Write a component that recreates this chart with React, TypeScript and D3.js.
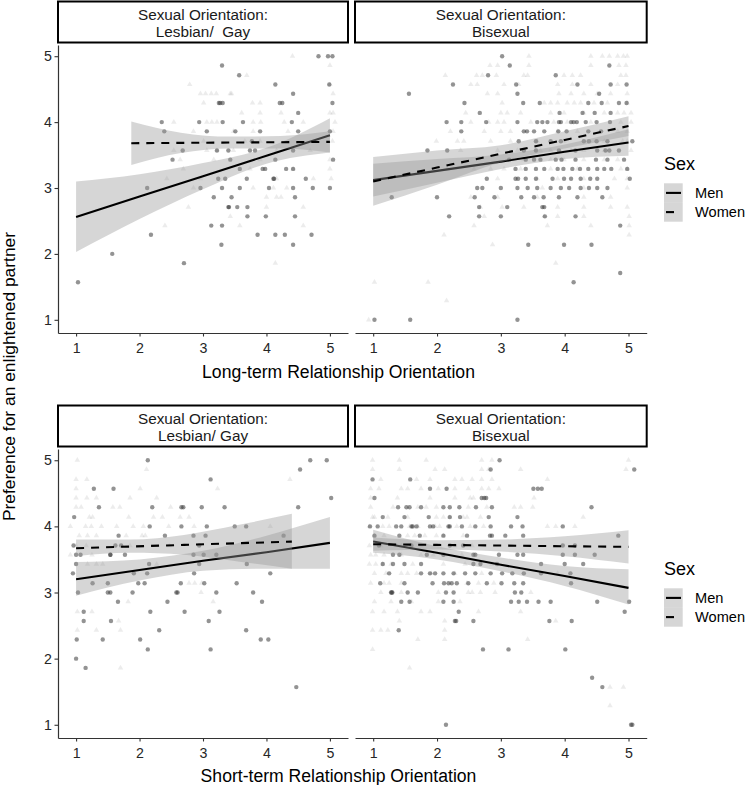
import React, { useEffect, useRef } from 'react';
import * as d3 from 'd3';

type Pt = [number, number];
interface Fit { x: number[]; fit: number[]; lo: number[]; hi: number[] }

// ---- data ----
const xTicks = [1, 2, 3, 4, 5];
const yTicks = [1, 2, 3, 4, 5];
const sexLabels = ['Men', 'Women'];
const stripLabels = [
  ['Sexual Orientation:', 'Lesbian/  Gay'],
  ['Sexual Orientation:', 'Bisexual'],
  ['Sexual Orientation:', 'Lesbian/ Gay'],
  ['Sexual Orientation:', 'Bisexual'],
];
const xTitles = ['Long-term Relationship Orientation', 'Short-term Relationship Orientation'];
const yTitle = 'Preference for an enlightened partner';

// Lesbian/Gay, long-term
const lgLongMen: Pt[] = [
  [1.03, 1.57], [1.57, 2.0], [2.18, 2.29], [2.12, 3.0], [2.35, 4.0], [2.39, 3.86], [2.52, 3.43], [2.7, 1.86],
  [2.68, 3.57], [2.94, 4.0], [2.96, 3.0], [3.06, 3.86], [3.17, 2.86], [3.13, 2.43], [3.25, 4.29], [3.27, 4.29],
  [3.31, 4.29], [3.3, 4.86], [3.31, 4.0], [3.3, 3.0], [3.3, 2.43], [3.29, 2.14], [3.22, 3.57], [3.24, 3.14],
  [3.35, 3.14], [3.4, 3.57], [3.4, 2.71], [3.41, 2.71], [3.43, 3.43], [3.45, 2.86], [3.51, 3.86], [3.54, 2.71],
  [3.57, 4.71], [3.58, 3.29], [3.58, 3.0], [3.63, 4.0], [3.69, 3.14], [3.7, 2.71], [3.7, 2.57], [3.74, 3.57],
  [3.77, 3.71], [3.82, 3.57], [3.86, 2.29], [3.9, 3.86], [3.94, 3.29], [3.98, 3.29], [3.99, 2.57], [4.04, 3.0],
  [4.14, 4.57], [4.11, 3.14], [4.12, 3.14], [4.14, 2.29], [4.14, 3.43], [4.21, 4.29], [4.25, 4.29], [4.29, 2.29],
  [4.31, 3.29], [4.4, 4.0], [4.42, 4.43], [4.42, 3.29], [4.42, 3.0], [4.42, 2.14], [4.45, 2.86], [4.45, 2.57],
  [4.42, 3.57], [4.5, 4.14], [4.62, 3.14], [4.71, 2.29], [4.73, 3.0], [4.82, 5.0], [4.97, 5.0], [5.04, 5.0],
  [4.99, 4.57], [5.04, 4.29], [5.0, 3.86], [5.05, 3.43], [5.0, 3.0], [4.5, 3.86],
];
const lgLongWomen: Pt[] = [
  [4.41, 5.0], [5.0, 4.86], [3.69, 4.71], [2.79, 4.57], [5.0, 4.57],
  [2.96, 4.43], [3.04, 4.43], [3.13, 4.43], [3.21, 4.43], [3.43, 4.43], [3.45, 4.43], [5.05, 4.43],
  [3.01, 4.29], [3.78, 4.29], [3.9, 4.29],
  [3.61, 4.14], [3.9, 4.14], [4.23, 4.14], [5.0, 4.14], [5.05, 4.14],
  [2.54, 4.0], [3.06, 4.0], [3.14, 4.0], [3.22, 4.0], [3.79, 4.0], [3.91, 4.0], [4.28, 4.0], [4.58, 4.0], [5.08, 4.0],
  [2.85, 3.86], [3.48, 3.86], [3.79, 3.86], [4.34, 3.86], [5.05, 3.86],
  [3.01, 3.71], [3.66, 3.71], [3.9, 3.71], [5.04, 3.71],
  [2.54, 3.57], [3.06, 3.57], [3.22, 3.57], [3.48, 3.57], [4.16, 3.57], [4.69, 3.57],
  [2.64, 3.43], [3.17, 3.43], [3.9, 3.43], [5.0, 3.43],
  [2.69, 3.29], [3.74, 3.29], [4.42, 3.29], [5.0, 3.29],
  [2.43, 3.14], [2.96, 3.14], [4.16, 3.14], [4.74, 3.14], [5.02, 3.14],
  [2.85, 3.0], [3.79, 3.0], [4.11, 3.0], [4.32, 3.0],
  [4.0, 2.86], [4.16, 2.86], [4.23, 2.86],
  [2.77, 2.71], [4.0, 2.71], [4.58, 2.71],
  [3.43, 2.57], [2.4, 2.43], [3.58, 2.43], [4.58, 2.43], [4.14, 1.86],
];

// Bisexual, long-term
const biLongMen: Pt[] = [
  [3.02, 5.0], [3.14, 4.86], [4.7, 4.86], [2.8, 4.71], [3.86, 4.71],
  [2.25, 4.57], [3.24, 4.57], [4.2, 4.57], [4.72, 4.57], [4.97, 4.57],
  [1.56, 4.43], [3.26, 4.43], [4.54, 4.43],
  [2.43, 4.29], [3.35, 4.29], [3.61, 4.29], [4.37, 4.29], [4.58, 4.29], [4.85, 4.29], [4.97, 4.29],
  [2.67, 4.14], [3.92, 4.14], [4.28, 4.14], [4.47, 4.14], [4.72, 4.14],
  [2.15, 4.0], [2.38, 4.0], [2.77, 4.0], [3.26, 4.0], [3.57, 4.0], [3.65, 4.0], [3.73, 4.0], [3.91, 4.0],
  [3.94, 4.0], [4.1, 4.0], [4.14, 4.0], [4.19, 4.0], [4.33, 4.0], [4.5, 4.0], [4.71, 4.0],
  [2.38, 3.86], [3.36, 3.86], [3.41, 3.86], [3.52, 3.86], [3.68, 3.86], [3.9, 3.86], [4.03, 3.86], [4.37, 3.86], [4.57, 3.86],
  [3.28, 3.71], [3.55, 3.71], [3.78, 3.71], [3.94, 3.71], [4.3, 3.71], [4.38, 3.71], [4.5, 3.71], [4.67, 3.71], [5.06, 3.71],
  [1.85, 3.57], [2.16, 3.57], [3.36, 3.57], [3.55, 3.57], [3.91, 3.57], [4.17, 3.57], [4.51, 3.57], [4.64, 3.57], [4.7, 3.57], [4.85, 3.57],
  [3.13, 3.43], [3.39, 3.43], [3.52, 3.43], [3.62, 3.43], [3.86, 3.43], [3.95, 3.43], [4.17, 3.43], [4.49, 3.43], [4.67, 3.43], [4.93, 3.43],
  [3.23, 3.29], [3.39, 3.29], [3.55, 3.29], [3.68, 3.29], [3.89, 3.29], [3.98, 3.29], [4.12, 3.29], [4.24, 3.29], [4.37, 3.29],
  [4.51, 3.29], [4.62, 3.29], [4.73, 3.29], [4.98, 3.29],
  [2.78, 3.14], [3.23, 3.14], [3.27, 3.14], [3.39, 3.14], [3.55, 3.14], [3.81, 3.14], [3.99, 3.14], [4.1, 3.14], [4.25, 3.14],
  [4.4, 3.14], [4.51, 3.14], [5.02, 3.14],
  [2.63, 3.0], [2.71, 3.0], [3.0, 3.0], [3.26, 3.0], [3.42, 3.0], [3.57, 3.0], [3.78, 3.0], [3.94, 3.0], [4.07, 3.0],
  [4.25, 3.0], [4.38, 3.0], [4.51, 3.0], [4.67, 3.0],
  [1.29, 2.86], [2.0, 2.86], [2.59, 2.86], [2.9, 2.86], [3.32, 2.86], [3.52, 2.86], [3.67, 2.86], [3.91, 2.86], [4.2, 2.86], [4.59, 2.86],
  [2.66, 2.71], [3.1, 2.71], [3.65, 2.71], [3.68, 2.71],
  [2.19, 2.57], [2.66, 2.57], [3.0, 2.57], [3.69, 2.57], [4.17, 2.57],
  [4.87, 2.43], [3.43, 2.14], [3.99, 2.14], [4.42, 2.14], [4.87, 1.71], [4.14, 1.57],
  [1.02, 1.0], [1.58, 1.0], [3.26, 1.0],
];
const biLongWomen: Pt[] = [
  [3.44, 5.0], [4.41, 5.0], [4.59, 5.0], [4.7, 5.0], [4.83, 5.0], [4.92, 5.0], [4.98, 5.0],
  [2.83, 4.86], [2.95, 4.86], [3.44, 4.86], [4.41, 4.86], [4.85, 4.86], [4.96, 4.86],
  [2.13, 4.71], [2.62, 4.71], [2.71, 4.71], [2.93, 4.71], [3.36, 4.71], [3.42, 4.71], [3.99, 4.71], [4.12, 4.71],
  [4.25, 4.71], [4.88, 4.71], [4.96, 4.71],
  [2.53, 4.57], [2.63, 4.57], [3.05, 4.57], [3.28, 4.57], [3.89, 4.57], [4.12, 4.57], [4.41, 4.57], [4.83, 4.57],
  [2.79, 4.43], [2.95, 4.43], [3.91, 4.43], [4.1, 4.43], [4.3, 4.43], [4.51, 4.43], [4.72, 4.43], [4.98, 4.43],
  [3.02, 4.29], [3.68, 4.29], [3.78, 4.29], [3.89, 4.29], [4.04, 4.29], [4.15, 4.29], [4.25, 4.29], [4.46, 4.29],
  [4.67, 4.29], [4.98, 4.29],
  [2.45, 4.14], [3.0, 4.14], [3.1, 4.14], [3.31, 4.14], [3.78, 4.14], [3.99, 4.14], [4.3, 4.14], [4.62, 4.14],
  [4.83, 4.14], [4.93, 4.14], [5.04, 4.14],
  [2.53, 4.0], [2.81, 4.0], [2.95, 4.0], [3.05, 4.0], [3.47, 4.0], [3.83, 4.0], [4.04, 4.0], [4.41, 4.0], [4.88, 4.0], [5.04, 4.0],
  [2.21, 3.86], [2.74, 3.86], [3.0, 3.86], [3.15, 3.86], [3.89, 3.86], [4.2, 3.86], [4.83, 3.86], [4.98, 3.86],
  [1.99, 3.71], [2.32, 3.71], [2.42, 3.71], [2.84, 3.71], [3.15, 3.71], [3.57, 3.71], [3.99, 3.71], [4.62, 3.71],
  [4.91, 3.71], [4.98, 3.71],
  [2.37, 3.57], [2.95, 3.57], [3.26, 3.57], [3.62, 3.57], [3.78, 3.57], [4.1, 3.57], [4.3, 3.57], [4.62, 3.57], [5.04, 3.57],
  [3.36, 3.43], [3.78, 3.43], [3.99, 3.43], [4.3, 3.43], [4.62, 3.43], [4.83, 3.43],
  [2.16, 3.29], [2.58, 3.29], [2.84, 3.29], [3.05, 3.29], [3.31, 3.29], [3.78, 3.29], [4.2, 3.29], [4.88, 3.29], [4.98, 3.29],
  [2.95, 3.14], [3.57, 3.14], [3.89, 3.14], [4.3, 3.14], [4.78, 3.14], [4.98, 3.14],
  [3.65, 3.0], [4.3, 3.0], [4.98, 3.0],
  [2.53, 2.86], [2.95, 2.86], [3.57, 2.86], [4.3, 2.86], [4.72, 2.86],
  [2.68, 2.71], [3.02, 2.71], [3.36, 2.71], [3.89, 2.71], [4.3, 2.71], [4.72, 2.71], [4.98, 2.71],
  [2.74, 2.57], [3.68, 2.57], [3.89, 2.57], [4.3, 2.57], [5.01, 2.57],
  [2.58, 2.43], [3.73, 2.43], [4.41, 2.43], [5.01, 2.43],
  [2.11, 2.29], [5.01, 2.29], [2.87, 2.14], [3.86, 1.86], [1.02, 1.57], [1.86, 1.57], [2.15, 1.29], [0.93, 1.0],
];

// Lesbian/Gay, short-term
const lgShortMen: Pt[] = [
  [2.13, 5.0], [4.69, 5.0], [4.95, 5.0], [4.53, 4.86], [3.12, 4.71], [1.28, 4.57], [1.59, 4.57], [5.02, 4.43],
  [1.36, 4.29], [2.2, 4.29], [2.66, 4.29], [2.69, 4.29], [2.98, 4.29], [3.34, 4.29], [4.5, 4.29], [0.97, 4.14],
  [2.16, 4.0], [2.66, 4.0], [3.06, 4.0], [3.5, 4.0], [3.68, 4.0],
  [1.67, 3.86], [2.4, 3.86], [2.85, 3.86], [3.04, 3.86], [4.27, 3.86],
  [0.96, 3.71], [1.62, 3.71], [1.71, 3.71], [2.94, 3.71],
  [1.0, 3.57], [1.07, 3.57], [1.54, 3.57], [1.54, 3.57], [1.77, 3.57], [2.85, 3.57], [3.01, 3.57], [3.21, 3.57],
  [1.0, 3.43], [2.15, 3.43], [2.94, 3.43], [3.69, 3.43],
  [0.95, 3.29], [1.91, 3.29], [2.12, 3.29], [2.86, 3.29], [4.06, 3.29],
  [1.26, 3.14], [1.5, 3.14], [1.98, 3.14], [2.08, 3.14], [2.65, 3.14], [3.02, 3.14], [3.53, 3.14],
  [1.03, 3.0], [1.5, 3.0], [1.54, 3.0], [1.89, 3.0], [2.58, 3.0], [2.6, 3.0], [3.21, 3.0], [3.79, 3.0],
  [1.66, 2.86], [2.44, 2.86], [3.93, 2.86],
  [1.12, 2.71], [2.17, 2.71], [2.71, 2.71], [3.26, 2.71],
  [1.12, 2.57], [1.55, 2.57], [3.09, 2.57], [2.31, 2.43], [3.68, 2.43],
  [1.01, 2.29], [1.42, 2.29], [2.01, 2.29], [3.91, 2.29], [4.03, 2.29],
  [2.13, 2.14], [3.12, 2.14], [1.0, 2.0], [1.15, 1.86], [4.47, 1.57],
];
const lgShortWomen: Pt[] = [
  [1.02, 5.0], [2.11, 4.86], [1.0, 4.71], [1.17, 4.71], [4.37, 4.71],
  [1.0, 4.57], [2.01, 4.57], [3.23, 4.57],
  [1.0, 4.43], [1.17, 4.43], [1.32, 4.43], [1.85, 4.43], [2.27, 4.43],
  [1.0, 4.29], [1.08, 4.29], [1.58, 4.29], [1.69, 4.29], [2.49, 4.29],
  [1.21, 4.14], [1.26, 4.14], [1.83, 4.14], [2.22, 4.14], [2.36, 4.14], [2.64, 4.14], [2.78, 4.14],
  [0.91, 4.0], [1.15, 4.0], [1.24, 4.0], [1.4, 4.0], [1.64, 4.0], [1.9, 4.0], [2.06, 4.0], [2.46, 4.0], [2.86, 4.0], [4.06, 4.0],
  [1.05, 3.86], [1.18, 3.86], [1.32, 3.86], [1.79, 3.86], [2.04, 3.86], [2.09, 3.86],
  [1.0, 3.71], [1.16, 3.71], [1.85, 3.71], [2.47, 3.71],
  [0.91, 3.57], [1.25, 3.57],
  [1.18, 3.43], [1.32, 3.43], [1.42, 3.43], [2.27, 3.43],
  [2.78, 3.14], [2.87, 3.14], [2.98, 3.14], [2.97, 3.0],
  [1.82, 2.86], [3.16, 2.86], [1.02, 2.71], [1.25, 2.71], [1.67, 2.57],
  [1.02, 2.43], [1.32, 2.43], [1.7, 2.43], [1.7, 1.86],
];

// Bisexual, short-term
const biShortMen: Pt[] = [
  [2.98, 5.0], [2.84, 4.86], [5.09, 4.86], [0.99, 4.71], [1.58, 4.71],
  [1.89, 4.57], [2.15, 4.57], [3.51, 4.57], [3.58, 4.57], [3.64, 4.57],
  [1.02, 4.43], [2.7, 4.43], [2.74, 4.43], [2.77, 4.43],
  [1.39, 4.29], [1.52, 4.29], [1.57, 4.29], [1.75, 4.29], [2.1, 4.29], [2.2, 4.29], [2.35, 4.29], [2.61, 4.29], [2.86, 4.29], [4.42, 4.29],
  [1.15, 4.14], [1.49, 4.14], [1.87, 4.14], [2.2, 4.14], [2.36, 4.14], [2.81, 4.14], [3.26, 4.14],
  [0.95, 4.0], [1.07, 4.0], [1.36, 4.0], [1.44, 4.0], [1.6, 4.0], [1.62, 4.0], [1.68, 4.0], [1.89, 4.0], [1.94, 4.0],
  [2.18, 4.0], [2.2, 4.0], [2.39, 4.0], [2.6, 4.0], [2.84, 4.0], [3.16, 4.0], [3.34, 4.0], [3.97, 4.0],
  [1.02, 3.86], [1.41, 3.86], [1.73, 3.86], [2.1, 3.86], [2.47, 3.86], [2.83, 3.86], [2.86, 3.86], [3.07, 3.86], [3.35, 3.86], [4.84, 3.86],
  [1.09, 3.71], [1.6, 3.71], [2.2, 3.71], [2.41, 3.71], [3.97, 3.71], [4.16, 3.71],
  [1.31, 3.57], [1.41, 3.57], [1.84, 3.57], [2.1, 3.57], [2.57, 3.57], [2.6, 3.57], [2.97, 3.57], [3.26, 3.57],
  [3.35, 3.57], [3.97, 3.57], [4.16, 3.57], [4.47, 3.57],
  [1.15, 3.43], [1.31, 3.43], [1.49, 3.43], [1.75, 3.43], [2.57, 3.43], [2.68, 3.43], [2.94, 3.43], [3.63, 3.43], [4.0, 3.43], [4.29, 3.43],
  [1.25, 3.29], [1.75, 3.29], [1.89, 3.29], [1.97, 3.29], [2.1, 3.29], [2.26, 3.29], [2.44, 3.29], [2.6, 3.29],
  [2.84, 3.29], [3.02, 3.29], [3.18, 3.29], [3.36, 3.29], [3.63, 3.29], [4.09, 3.29],
  [1.11, 3.14], [1.49, 3.14], [1.93, 3.14], [2.11, 3.14], [2.18, 3.14], [2.23, 3.14], [2.31, 3.14], [2.49, 3.14],
  [2.78, 3.14], [3.01, 3.14], [3.21, 3.14], [3.35, 3.14], [4.1, 3.14],
  [1.28, 3.0], [1.3, 3.0], [1.29, 3.0], [1.54, 3.0], [1.7, 3.0], [2.14, 3.0], [2.26, 3.0], [3.22, 3.0], [3.32, 3.0],
  [1.44, 2.86], [1.57, 2.86], [2.1, 2.86], [2.26, 2.86], [3.16, 2.86], [3.28, 2.86], [3.41, 2.86], [3.59, 2.86],
  [3.78, 2.86], [4.51, 2.86], [5.01, 2.86],
  [2.34, 2.71], [4.94, 2.71], [2.28, 2.57], [2.3, 2.57], [2.57, 2.57], [3.76, 2.57], [4.11, 2.57],
  [1.4, 2.43], [2.72, 2.14], [3.12, 2.14], [4.01, 2.14], [4.43, 1.71], [4.59, 1.57],
  [2.14, 1.0], [5.04, 1.0], [5.06, 1.0],
];
const biShortWomen: Pt[] = [
  [0.99, 5.0], [1.41, 5.0], [1.83, 5.0], [2.7, 5.0], [2.86, 5.0], [5.0, 5.0],
  [0.99, 4.86], [1.41, 4.86], [1.97, 4.86], [2.12, 4.86], [2.7, 4.86], [2.81, 4.86], [3.31, 4.86], [4.96, 4.86],
  [1.12, 4.71], [1.68, 4.71], [1.89, 4.71], [2.28, 4.71], [2.39, 4.71], [2.55, 4.71], [2.7, 4.71], [2.86, 4.71], [3.73, 4.71],
  [0.96, 4.57], [1.09, 4.57], [1.44, 4.57], [1.54, 4.57], [1.75, 4.57], [2.02, 4.57], [2.28, 4.57], [2.49, 4.57],
  [2.7, 4.57], [2.81, 4.57], [2.97, 4.57],
  [0.96, 4.43], [1.38, 4.43], [1.89, 4.43], [2.28, 4.43], [2.52, 4.43], [2.57, 4.43], [3.52, 4.43],
  [0.96, 4.29], [1.31, 4.29], [1.7, 4.29], [1.83, 4.29], [1.99, 4.29], [2.49, 4.29], [2.78, 4.29], [3.21, 4.29], [3.31, 4.29], [3.5, 4.29],
  [0.99, 4.14], [1.02, 4.14], [1.23, 4.14], [1.54, 4.14], [1.99, 4.14], [2.1, 4.14], [2.2, 4.14], [2.41, 4.14],
  [2.47, 4.14], [2.68, 4.14], [4.29, 4.14],
  [0.94, 4.0], [1.15, 4.0], [1.25, 4.0], [1.57, 4.0], [1.7, 4.0], [1.97, 4.0], [2.04, 4.0], [2.31, 4.0], [2.52, 4.0],
  [2.73, 4.0], [3.73, 4.0], [3.86, 4.0], [4.16, 4.0],
  [1.02, 3.86], [1.17, 3.86], [1.54, 3.86], [1.65, 3.86], [1.81, 3.86], [1.99, 3.86], [2.1, 3.86], [2.41, 3.86],
  [0.94, 3.71], [1.12, 3.71], [1.44, 3.71], [1.75, 3.71], [2.04, 3.71], [2.28, 3.71], [2.55, 3.71],
  [0.96, 3.57], [1.04, 3.57], [1.17, 3.57], [1.44, 3.57], [1.75, 3.57], [1.94, 3.57], [2.12, 3.57], [2.39, 3.57],
  [0.94, 3.43], [1.04, 3.43], [1.15, 3.43], [1.28, 3.43], [1.62, 3.43], [2.1, 3.43], [2.44, 3.43], [2.86, 3.43],
  [1.02, 3.29], [1.2, 3.29], [1.44, 3.29], [1.54, 3.29], [1.68, 3.29], [1.91, 3.29], [2.28, 3.29], [2.7, 3.29], [3.89, 3.29],
  [0.96, 3.14], [1.17, 3.14], [1.25, 3.14], [1.44, 3.14], [2.47, 3.14], [2.65, 3.14], [2.89, 3.14],
  [1.12, 3.0], [1.44, 3.0], [2.02, 3.0], [2.49, 3.0], [2.55, 3.0], [2.68, 3.0], [2.91, 3.0], [3.47, 3.0],
  [1.02, 2.86], [1.28, 2.86], [1.6, 2.86], [2.02, 2.86], [2.36, 2.86],
  [0.99, 2.71], [1.17, 2.71], [1.38, 2.71], [1.75, 2.71], [1.89, 2.71], [2.65, 2.71], [3.31, 2.71],
  [1.41, 2.57], [2.12, 2.57], [3.86, 2.57],
  [0.99, 2.43], [1.12, 2.43], [1.23, 2.43], [2.12, 2.43],
  [1.7, 2.29], [2.12, 2.29], [3.42, 2.29], [0.99, 2.14], [1.57, 1.86],
  [4.71, 1.57], [4.92, 1.57], [4.71, 1.29],
];

// fitted lines with 95% bands (values read at each x)
const lgLongMenFit: Fit = { x: [1, 2, 3, 4, 5], fit: [2.56, 2.87, 3.18, 3.49, 3.8], lo: [2.03, 2.53, 2.98, 3.37, 3.54], hi: [3.1, 3.21, 3.38, 3.61, 4.06] };
const lgLongWomenFit: Fit = { x: [1.87, 2.65, 3.43, 4.22, 5], fit: [3.68, 3.685, 3.69, 3.695, 3.7], lo: [3.35, 3.53, 3.6, 3.6, 3.54], hi: [4.01, 3.84, 3.78, 3.79, 3.86] };
const biLongMenFit: Fit = { x: [1, 2, 3, 4, 5], fit: [3.12, 3.26, 3.4, 3.55, 3.69], lo: [2.87, 3.08, 3.29, 3.44, 3.49], hi: [3.37, 3.44, 3.51, 3.66, 3.89] };
const biLongWomenFit: Fit = { x: [1, 2, 3, 4, 5], fit: [3.1, 3.31, 3.52, 3.73, 3.94], lo: [2.73, 3.05, 3.39, 3.6, 3.79], hi: [3.47, 3.57, 3.65, 3.86, 4.09] };
const lgShortMenFit: Fit = { x: [1, 2, 3, 4, 5], fit: [3.2, 3.34, 3.48, 3.61, 3.75], lo: [2.95, 3.18, 3.33, 3.36, 3.36], hi: [3.46, 3.5, 3.63, 3.86, 4.14] };
const lgShortWomenFit: Fit = { x: [1, 1.85, 2.7, 3.55, 4.4], fit: [3.67, 3.695, 3.72, 3.745, 3.77], lo: [3.55, 3.6, 3.57, 3.47, 3.36], hi: [3.8, 3.8, 3.87, 4.02, 4.19] };
const biShortMenFit: Fit = { x: [1, 2, 3, 4, 5], fit: [3.77, 3.6, 3.42, 3.25, 3.07], lo: [3.6, 3.5, 3.32, 3.1, 2.82], hi: [3.95, 3.7, 3.53, 3.4, 3.35] };
const biShortWomenFit: Fit = { x: [1, 2, 3, 4, 5], fit: [3.73, 3.72, 3.71, 3.7, 3.69], lo: [3.63, 3.65, 3.62, 3.55, 3.44], hi: [3.83, 3.79, 3.8, 3.85, 3.94] };

const panels = [
  { row: 0, col: 0, men: lgLongMen, women: lgLongWomen, menFit: lgLongMenFit, womenFit: lgLongWomenFit },
  { row: 0, col: 1, men: biLongMen, women: biLongWomen, menFit: biLongMenFit, womenFit: biLongWomenFit },
  { row: 1, col: 0, men: lgShortMen, women: lgShortWomen, menFit: lgShortMenFit, womenFit: lgShortWomenFit },
  { row: 1, col: 1, men: biShortMen, women: biShortWomen, menFit: biShortMenFit, womenFit: biShortWomenFit },
];

const W = 747;
const H = 785;
const FONT = "'Liberation Sans', Arial, Helvetica, sans-serif";
const rows = [{ y0: 45, y1: 333, strip: 1 }, { y0: 449, y1: 738, strip: 405 }];
const cols = [{ x0: 58, x1: 348 }, { x0: 355, x1: 646.7 }];

const Chart: React.FC = () => {
  const ref = useRef<SVGSVGElement>(null);

  useEffect(() => {
    if (!ref.current) return;
    const svg = d3.select(ref.current);
    svg.selectAll('*').remove();

    panels.forEach((p, i) => {
      const r = rows[p.row];
      const c = cols[p.col];
      const x = d3.scaleLinear().domain([0.715, 5.285]).range([c.x0, c.x1]);
      const y = d3.scaleLinear().domain([0.8, 5.17]).range([r.y1, r.y0]);
      const g = svg.append('g');

      // strip
      g.append('rect')
        .attr('x', c.x0).attr('y', r.strip + 0.5)
        .attr('width', c.x1 - c.x0).attr('height', 41)
        .attr('fill', '#fff').attr('stroke', '#000').attr('stroke-width', 2);
      stripLabels[i].forEach((t, k) => {
        g.append('text')
          .attr('x', (c.x0 + c.x1) / 2)
          .attr('y', r.strip + 18.5 + k * 17)
          .attr('text-anchor', 'middle')
          .attr('font-family', FONT).attr('font-size', 15.3).attr('fill', '#1a1a1a')
          .style('white-space', 'pre')
          .text(t);
      });

      // women triangles (faint), men circles
      const tri = d3.symbol().type(d3.symbolTriangle).size(13);
      g.append('g').selectAll('path').data(p.women).join('path')
        .attr('d', tri)
        .attr('transform', d => `translate(${x(d[0])},${y(d[1])})`)
        .attr('fill', '#444').attr('fill-opacity', 0.1);
      g.append('g').selectAll('circle').data(p.men).join('circle')
        .attr('cx', d => x(d[0])).attr('cy', d => y(d[1])).attr('r', 2.2)
        .attr('fill', '#3a3a3a').attr('fill-opacity', 0.55);

      // smooths: band then line, men first then women
      [p.menFit, p.womenFit].forEach((f, k) => {
        const idx = d3.range(f.x.length);
        const area = d3.area<number>()
          .x(j => x(f.x[j])).y0(j => y(f.lo[j])).y1(j => y(f.hi[j]))
          .curve(d3.curveMonotoneX);
        const line = d3.line<number>().x(j => x(f.x[j])).y(j => y(f.fit[j]));
        g.append('path').attr('d', area(idx)).attr('fill', '#999').attr('fill-opacity', 0.4);
        g.append('path').attr('d', line(idx))
          .attr('fill', 'none').attr('stroke', '#000').attr('stroke-width', 2.1)
          .attr('stroke-dasharray', k === 1 ? '8,7' : null);
      });

      // axes
      const ax = g.append('g').attr('transform', `translate(0,${r.y1})`)
        .call(d3.axisBottom(x).tickValues(xTicks).tickFormat(d3.format('d')).tickSize(3.5).tickSizeOuter(0).tickPadding(6.5));
      ax.selectAll('text').attr('font-family', FONT).attr('font-size', 14.2).attr('fill', '#262626');
      ax.selectAll('line').attr('stroke', '#333').attr('stroke-width', 1.1);
      ax.select('.domain').attr('stroke', '#333').attr('stroke-width', 1.2);
      if (p.col === 0) {
        const ay = g.append('g').attr('transform', `translate(${c.x0},0)`)
          .call(d3.axisLeft(y).tickValues(yTicks).tickFormat(d3.format('d')).tickSize(3.5).tickSizeOuter(0).tickPadding(2.5));
        ay.selectAll('text').attr('font-family', FONT).attr('font-size', 14.2).attr('fill', '#262626');
        ay.selectAll('line').attr('stroke', '#333').attr('stroke-width', 1.1);
        ay.select('.domain').attr('stroke', '#333').attr('stroke-width', 1.2);
      }
    });

    // x titles
    xTitles.forEach((t, k) => {
      svg.append('text')
        .attr('x', 338.5).attr('y', k === 0 ? 378 : 782)
        .attr('text-anchor', 'middle')
        .attr('font-family', FONT).attr('font-size', 17.6).attr('fill', '#000')
        .text(t);
    });

    // y title
    svg.append('text')
      .attr('transform', 'translate(15,376.5) rotate(-90)')
      .attr('text-anchor', 'middle')
      .attr('font-family', FONT).attr('font-size', 17.4).attr('fill', '#000')
      .text(yTitle);

    // legends
    [0, 405].forEach(off => {
      const lg = svg.append('g').attr('transform', `translate(0,${off})`);
      lg.append('text').attr('x', 664).attr('y', 170)
        .attr('font-family', FONT).attr('font-size', 18).attr('fill', '#000').text('Sex');
      sexLabels.forEach((s, k) => {
        const ky = 183.3 + k * 19.2;
        lg.append('rect').attr('x', 664).attr('y', ky).attr('width', 18.7).attr('height', 19.2)
          .attr('fill', '#999').attr('fill-opacity', 0.4);
        lg.append('line').attr('x1', 666).attr('x2', 681).attr('y1', ky + 9.6).attr('y2', ky + 9.6)
          .attr('stroke', '#000').attr('stroke-width', 2.1)
          .attr('stroke-dasharray', k === 1 ? '8,7' : null);
        lg.append('text').attr('x', 695).attr('y', ky + 14.5)
          .attr('font-family', FONT).attr('font-size', 14.6).attr('fill', '#000').text(s);
      });
    });
  }, []);

  return (
    <svg
      ref={ref}
      width={W}
      height={H}
      style={{ position: 'absolute', left: 0, top: 0, background: '#fff' }}
    />
  );
};

export default function App() {
  return <Chart />;
}
